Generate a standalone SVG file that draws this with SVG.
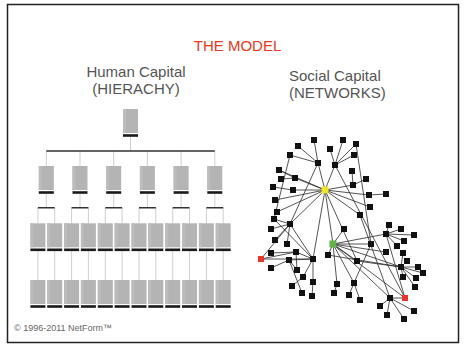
<svg xmlns="http://www.w3.org/2000/svg" xmlns:xlink="http://www.w3.org/1999/xlink" width="466" height="349" viewBox="0 0 466 349">
<style>
.t{font-family:"Liberation Sans",Arial,sans-serif;font-size:15px;fill:#555}
.lt{stroke:#cfcfcf;stroke-width:1;fill:none}
.dk{stroke:#333;stroke-width:1.6;fill:none}
.e{stroke:#2a2a2a;stroke-width:0.8}
.n{fill:#111}
</style>
<defs>
<g id="box"><rect x="-7.5" y="0" width="15" height="24" fill="#b4b4b4"/><rect x="-7.5" y="0" width="3" height="24" fill="#bcbcbc"/><rect x="-7.5" y="25.2" width="15" height="2.6" fill="#1a1a1a"/></g>
</defs>
<rect x="0" y="0" width="466" height="349" fill="#fff"/>
<rect x="7.5" y="4.5" width="451" height="338" fill="#fff" stroke="#222" stroke-width="1.5"/>
<text x="237.5" y="51" text-anchor="middle" class="t" style="fill:#e8381e">THE MODEL</text>
<text x="136" y="77" text-anchor="middle" class="t">Human Capital</text>
<text x="136" y="94" text-anchor="middle" class="t">(HIERACHY)</text>
<text x="289" y="80.5" class="t">Social Capital</text>
<text x="289" y="97.5" class="t">(NETWORKS)</text>
<text x="14" y="331" style="font-family:'Liberation Sans',Arial,sans-serif;font-size:9px;fill:#666">© 1996-2011 NetForm™</text>
<g id="hier-connectors">
<path class="lt" d="M130.5 136.7V151 M46.3 151V166 M80 151V166 M113.7 151V166 M147.4 151V166 M181.1 151V166 M214.8 151V166 M46.3 194V207.7 M80 194V207.7 M113.7 194V207.7 M147.4 194V207.7 M181.1 194V207.7 M214.8 194V207.7"/>
<path class="lt" d="M37.9 207.7V223.3 M54.7 207.7V223.3 M71.6 207.7V223.3 M88.4 207.7V223.3 M105.3 207.7V223.3 M122.1 207.7V223.3 M139 207.7V223.3 M155.8 207.7V223.3 M172.7 207.7V223.3 M189.5 207.7V223.3 M206.4 207.7V223.3 M223.2 207.7V223.3"/>
<path class="lt" d="M37.9 251V280 M54.7 251V280 M71.6 251V280 M88.4 251V280 M105.3 251V280 M122.1 251V280 M139 251V280 M155.8 251V280 M172.7 251V280 M189.5 251V280 M206.4 251V280 M223.2 251V280"/>
<path class="dk" d="M46.3 151H214.8 M37.9 207.7H54.7 M71.6 207.7H88.4 M105.3 207.7H122.1 M139 207.7H155.8 M172.7 207.7H189.5 M206.4 207.7H223.2"/>
</g>
<g id="h-top"><use xlink:href="#box" x="130.5" y="109"/></g>
<g id="h-l2">
<use xlink:href="#box" x="46.3" y="166"/><use xlink:href="#box" x="80" y="166"/><use xlink:href="#box" x="113.7" y="166"/><use xlink:href="#box" x="147.4" y="166"/><use xlink:href="#box" x="181.1" y="166"/><use xlink:href="#box" x="214.8" y="166"/>
</g>
<g id="h-l3">
<use xlink:href="#box" x="37.9" y="223.3"/><use xlink:href="#box" x="54.7" y="223.3"/><use xlink:href="#box" x="71.6" y="223.3"/><use xlink:href="#box" x="88.4" y="223.3"/><use xlink:href="#box" x="105.3" y="223.3"/><use xlink:href="#box" x="122.1" y="223.3"/><use xlink:href="#box" x="139" y="223.3"/><use xlink:href="#box" x="155.8" y="223.3"/><use xlink:href="#box" x="172.7" y="223.3"/><use xlink:href="#box" x="189.5" y="223.3"/><use xlink:href="#box" x="206.4" y="223.3"/><use xlink:href="#box" x="223.2" y="223.3"/>
</g>
<g id="h-l4">
<use xlink:href="#box" x="37.9" y="280"/><use xlink:href="#box" x="54.7" y="280"/><use xlink:href="#box" x="71.6" y="280"/><use xlink:href="#box" x="88.4" y="280"/><use xlink:href="#box" x="105.3" y="280"/><use xlink:href="#box" x="122.1" y="280"/><use xlink:href="#box" x="139" y="280"/><use xlink:href="#box" x="155.8" y="280"/><use xlink:href="#box" x="172.7" y="280"/><use xlink:href="#box" x="189.5" y="280"/><use xlink:href="#box" x="206.4" y="280"/><use xlink:href="#box" x="223.2" y="280"/>
</g>
<g id="net-connectors" class="e">
<line x1="314" y1="140" x2="318" y2="163"/><line x1="298" y1="146" x2="318" y2="163"/><line x1="290" y1="155" x2="318" y2="163"/><line x1="318" y1="163" x2="325" y2="190"/>
<line x1="330" y1="149" x2="335" y2="165"/><line x1="343" y1="140" x2="335" y2="165"/><line x1="356" y1="144" x2="335" y2="165"/><line x1="354" y1="155" x2="335" y2="165"/><line x1="335" y1="165" x2="325" y2="190"/>
<line x1="356" y1="144" x2="371" y2="244"/><line x1="335" y1="165" x2="405" y2="298"/>
<line x1="352" y1="171" x2="353" y2="185"/><line x1="366" y1="179" x2="353" y2="185"/><line x1="353" y1="185" x2="325" y2="190"/>
<line x1="279" y1="170" x2="295" y2="178"/><line x1="281" y1="179" x2="295" y2="178"/><line x1="295" y1="178" x2="325" y2="190"/><line x1="279" y1="170" x2="325" y2="190"/>
<line x1="273" y1="187" x2="293" y2="190"/><line x1="293" y1="190" x2="325" y2="190"/><line x1="275" y1="200" x2="325" y2="190"/><line x1="277" y1="212" x2="325" y2="190"/><line x1="290" y1="224" x2="325" y2="190"/>
<line x1="369" y1="195" x2="325" y2="190"/><line x1="369" y1="195" x2="386" y2="194"/><line x1="370" y1="207" x2="325" y2="190"/><line x1="360" y1="215" x2="325" y2="190"/>
<line x1="325" y1="190" x2="333" y2="244"/><line x1="325" y1="190" x2="313" y2="259"/><line x1="325" y1="190" x2="357" y2="261"/>
<line x1="290" y1="155" x2="274" y2="219"/><line x1="318" y1="163" x2="290" y2="224"/>
<line x1="274" y1="219" x2="290" y2="224"/><line x1="271" y1="229" x2="290" y2="224"/><line x1="290" y1="224" x2="287" y2="244"/><line x1="290" y1="224" x2="275" y2="240"/><line x1="274" y1="219" x2="313" y2="259"/><line x1="290" y1="224" x2="313" y2="259"/>
<line x1="261" y1="259" x2="290" y2="224"/><line x1="261" y1="259" x2="296" y2="252"/><line x1="261" y1="259" x2="313" y2="259"/>
<line x1="271" y1="253" x2="296" y2="252"/><line x1="296" y1="252" x2="313" y2="259"/><line x1="289" y1="260" x2="313" y2="259"/><line x1="296" y1="252" x2="297" y2="270"/><line x1="289" y1="260" x2="297" y2="270"/><line x1="271" y1="268" x2="289" y2="260"/><line x1="289" y1="260" x2="302" y2="293"/>
<line x1="313" y1="259" x2="303" y2="277"/><line x1="313" y1="259" x2="313" y2="282"/><line x1="313" y1="282" x2="312" y2="296"/><line x1="303" y1="277" x2="292" y2="286"/>
<line x1="333" y1="244" x2="344" y2="229"/><line x1="333" y1="244" x2="328" y2="255"/><line x1="333" y1="244" x2="386" y2="234"/><line x1="333" y1="244" x2="371" y2="244"/><line x1="333" y1="244" x2="386" y2="252"/><line x1="333" y1="244" x2="357" y2="261"/><line x1="333" y1="244" x2="401" y2="267"/><line x1="333" y1="244" x2="390" y2="298"/><line x1="333" y1="244" x2="354" y2="283"/><line x1="333" y1="244" x2="337" y2="284"/><line x1="333" y1="244" x2="405" y2="298"/>
<line x1="337" y1="284" x2="334" y2="293"/><line x1="354" y1="283" x2="349" y2="295"/><line x1="354" y1="283" x2="360" y2="300"/><line x1="371" y1="244" x2="354" y2="283"/>
<line x1="328" y1="255" x2="401" y2="267"/><line x1="357" y1="261" x2="401" y2="267"/><line x1="360" y1="215" x2="390" y2="298"/>
<line x1="386" y1="234" x2="389" y2="225"/><line x1="386" y1="234" x2="401" y2="229"/><line x1="386" y1="234" x2="414" y2="235"/><line x1="386" y1="234" x2="397" y2="246"/><line x1="386" y1="234" x2="404" y2="241"/><line x1="386" y1="234" x2="405" y2="298"/>
<line x1="401" y1="267" x2="403" y2="253"/><line x1="401" y1="267" x2="407" y2="261"/><line x1="401" y1="267" x2="418" y2="267"/><line x1="401" y1="267" x2="423" y2="273"/><line x1="401" y1="267" x2="403" y2="277"/><line x1="401" y1="267" x2="416" y2="278"/><line x1="401" y1="267" x2="415" y2="287"/>
<line x1="390" y1="298" x2="405" y2="298"/><line x1="390" y1="298" x2="380" y2="306"/><line x1="390" y1="298" x2="414" y2="311"/><line x1="390" y1="298" x2="387" y2="315"/><line x1="390" y1="298" x2="404" y2="319"/>
</g>
<g id="net-nodes" class="n">
<rect x="311" y="137" width="6" height="6"/><rect x="340" y="137" width="6" height="6"/><rect x="353" y="141" width="6" height="6"/><rect x="295" y="143" width="6" height="6"/><rect x="327" y="146" width="6" height="6"/><rect x="351" y="152" width="6" height="6"/><rect x="287" y="152" width="6" height="6"/><rect x="315" y="160" width="6" height="6"/><rect x="332" y="162" width="6" height="6"/><rect x="349" y="168" width="6" height="6"/>
<rect x="276" y="167" width="6" height="6"/><rect x="278" y="176" width="6" height="6"/><rect x="292" y="175" width="6" height="6"/><rect x="363" y="176" width="6" height="6"/><rect x="350" y="182" width="6" height="6"/><rect x="270" y="184" width="6" height="6"/><rect x="290" y="187" width="6" height="6"/><rect x="366" y="192" width="6" height="6"/><rect x="383" y="191" width="6" height="6"/><rect x="272" y="197" width="6" height="6"/>
<rect x="367" y="204" width="6" height="6"/><rect x="274" y="209" width="6" height="6"/><rect x="357" y="212" width="6" height="6"/><rect x="271" y="216" width="6" height="6"/><rect x="287" y="221" width="6" height="6"/><rect x="268" y="226" width="6" height="6"/><rect x="341" y="226" width="6" height="6"/><rect x="386" y="222" width="6" height="6"/><rect x="398" y="226" width="6" height="6"/><rect x="383" y="231" width="6" height="6"/>
<rect x="411" y="232" width="6" height="6"/><rect x="272" y="237" width="6" height="6"/><rect x="284" y="241" width="6" height="6"/><rect x="368" y="241" width="6" height="6"/><rect x="394" y="243" width="6" height="6"/><rect x="401" y="238" width="6" height="6"/><rect x="268" y="250" width="6" height="6"/><rect x="293" y="249" width="6" height="6"/><rect x="325" y="252" width="6" height="6"/><rect x="383" y="249" width="6" height="6"/>
<rect x="400" y="250" width="6" height="6"/><rect x="286" y="257" width="6" height="6"/><rect x="310" y="256" width="6" height="6"/><rect x="354" y="258" width="6" height="6"/><rect x="404" y="258" width="6" height="6"/><rect x="268" y="265" width="6" height="6"/><rect x="294" y="267" width="6" height="6"/><rect x="398" y="264" width="6" height="6"/><rect x="415" y="264" width="6" height="6"/><rect x="420" y="270" width="6" height="6"/>
<rect x="300" y="274" width="6" height="6"/><rect x="400" y="274" width="6" height="6"/><rect x="413" y="275" width="6" height="6"/><rect x="310" y="279" width="6" height="6"/><rect x="351" y="280" width="6" height="6"/><rect x="334" y="281" width="6" height="6"/><rect x="289" y="283" width="6" height="6"/><rect x="412" y="284" width="6" height="6"/><rect x="299" y="290" width="6" height="6"/><rect x="331" y="290" width="6" height="6"/>
<rect x="346" y="292" width="6" height="6"/><rect x="309" y="293" width="6" height="6"/><rect x="387" y="295" width="6" height="6"/><rect x="357" y="297" width="6" height="6"/><rect x="377" y="303" width="6" height="6"/><rect x="411" y="308" width="6" height="6"/><rect x="384" y="312" width="6" height="6"/><rect x="401" y="316" width="6" height="6"/>
</g>
<g id="hub-yellow"><rect x="321.5" y="186.5" width="7" height="7" fill="#ece52a"/></g>
<g id="hub-green"><rect x="329.5" y="240.5" width="7" height="7" fill="#62b24a"/></g>
<g id="hub-red-left"><rect x="258" y="256" width="6" height="6" fill="#e8362a"/></g>
<g id="hub-red-right"><rect x="402" y="295" width="6" height="6" fill="#e8362a"/></g>
</svg>
